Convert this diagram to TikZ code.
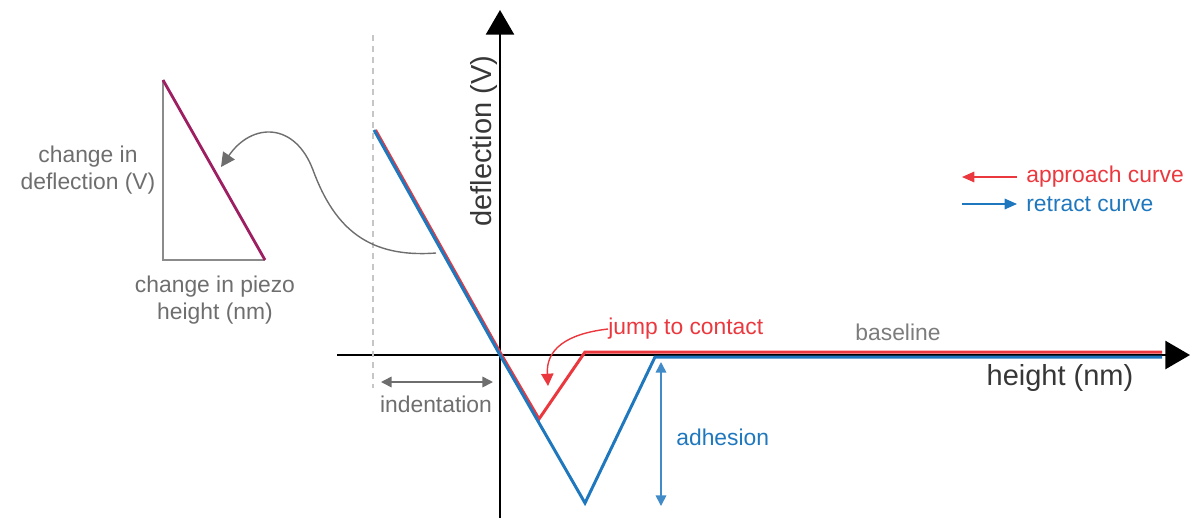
\documentclass[tikz,border=0pt]{standalone}
\usepackage{fontspec}
\setmainfont{Liberation Sans}
\usetikzlibrary{arrows.meta,calc,positioning}
\definecolor{afmred}{RGB}{234,56,62}
\definecolor{afmblue}{RGB}{31,120,190}
\definecolor{afmpurple}{RGB}{158,30,98}
\definecolor{afmgray}{RGB}{110,110,110}
\definecolor{afmdark}{RGB}{55,55,55}

\begin{document}
\begin{tikzpicture}[x=0.02cm,y=-0.02cm,font=\fontsize{13}{15.5}\selectfont,
    axis/.style={line width=1.1pt,-{Triangle[length=14pt,width=16pt]}},
    curve/.style={line width=1.7pt,line join=miter},
    big/.style={font=\fontsize{16.5}{19}\selectfont,text=afmdark},
    note/.style={text=afmgray,align=center,inner sep=0pt},
    thin arrow/.style={line width=0.9pt,{Triangle[length=6pt,width=6pt]}-{Triangle[length=6pt,width=6pt]}}]
  \useasboundingbox (0,0) rectangle (1194,518);
  % axes
  \coordinate (o) at (500,355);
  \coordinate (ybot) at (500,518);
  \coordinate (ytop) at (500,10);
  \coordinate (xl) at (337,355);
  \coordinate (xr) at (1190,355);
  \draw[axis] (ybot)--(ytop);
  \draw[axis] (xl)--(xr);
  \node[big,rotate=90] (ylab) at (484,141) {deflection (V)};
  \node[big] (xlab) at (1060,378) {height (nm)};
  % indentation
  \draw[gray!45,line width=0.6pt,dash pattern=on 3.4pt off 2.8pt] (373,35)--(373,388);
  \coordinate (ind1) at (381,382);
  \coordinate (ind2) at (493,382);
  \draw[afmgray,thin arrow] (ind1)--(ind2);
  \node[note] (ind) at (436,404) {indentation};
  % approach and retract curves
  \coordinate (top) at (374,130);
  \coordinate (snap) at (539,419);
  \coordinate (rc) at (585,352);
  \coordinate (rend) at (1162,352);
  \coordinate (vb) at (585,503);
  \coordinate (bc) at (655,357);
  \coordinate (bend) at (1162,357);
  \draw[curve,afmred] ($(top)+(1.5,0)$)--(501,354)--(snap)--(rc)--(rend);
  \draw[curve,afmblue] (top)--(o)--(vb)--(bc)--(bend);
  \node[text=afmred,anchor=west,inner sep=0pt] (jump) at (608,329) {jump to contact};
  \coordinate (jtip) at (548,386);
  \draw[afmred,line width=0.8pt,-{Triangle[length=7pt,width=7pt]}] (jump.west) .. controls (565,334) and (546,350) .. (jtip);
  \node[text=afmgray!90,inner sep=0pt] (base) at (898,332) {baseline};
  % adhesion
  \coordinate (ad1) at (661,362);
  \coordinate (ad2) at (661,506);
  \draw[afmblue!85,thin arrow] (ad1)--(ad2);
  \node[text=afmblue,anchor=west,inner sep=0pt] (adh) at (676,437) {adhesion};
  % legend
  \coordinate (la) at (1017,177);
  \coordinate (lb) at (962,177);
  \coordinate (lc) at (962,204);
  \coordinate (ld) at (1017,204);
  \draw[afmred,line width=0.9pt,-{Triangle[length=7pt,width=6pt]}] (la)--(lb);
  \draw[afmblue,line width=0.9pt,-{Triangle[length=7pt,width=6pt]}] (lc)--(ld);
  \node[text=afmred,anchor=west,inner sep=0pt] (app) at (1026,177) {approach curve};
  \node[text=afmblue,anchor=west,inner sep=0pt] (ret) at (1026,204) {retract curve};
  % slope triangle
  \coordinate (ta) at (163,80);
  \coordinate (tb) at (163,260);
  \coordinate (tc) at (265,260);
  \draw[afmgray!80,line width=1pt] (ta)--(tb)--(tc);
  \draw[afmpurple,line width=1.6pt] (ta)--(tc);
  \node[note] (defl) at (88,170) {change in\\deflection (V)};
  \node[note] (piezo) at (215,300) {change in piezo\\height (nm)};
  \coordinate (cs) at (436,253);
  \coordinate (ce) at (221,167);
  \draw[afmgray,line width=0.8pt,-{Triangle[length=8pt,width=8pt]}] (cs) .. controls (370,258) and (335,230) .. (313,170) .. controls (295,122) and (252,122) .. (ce);
\end{tikzpicture}
\end{document}
